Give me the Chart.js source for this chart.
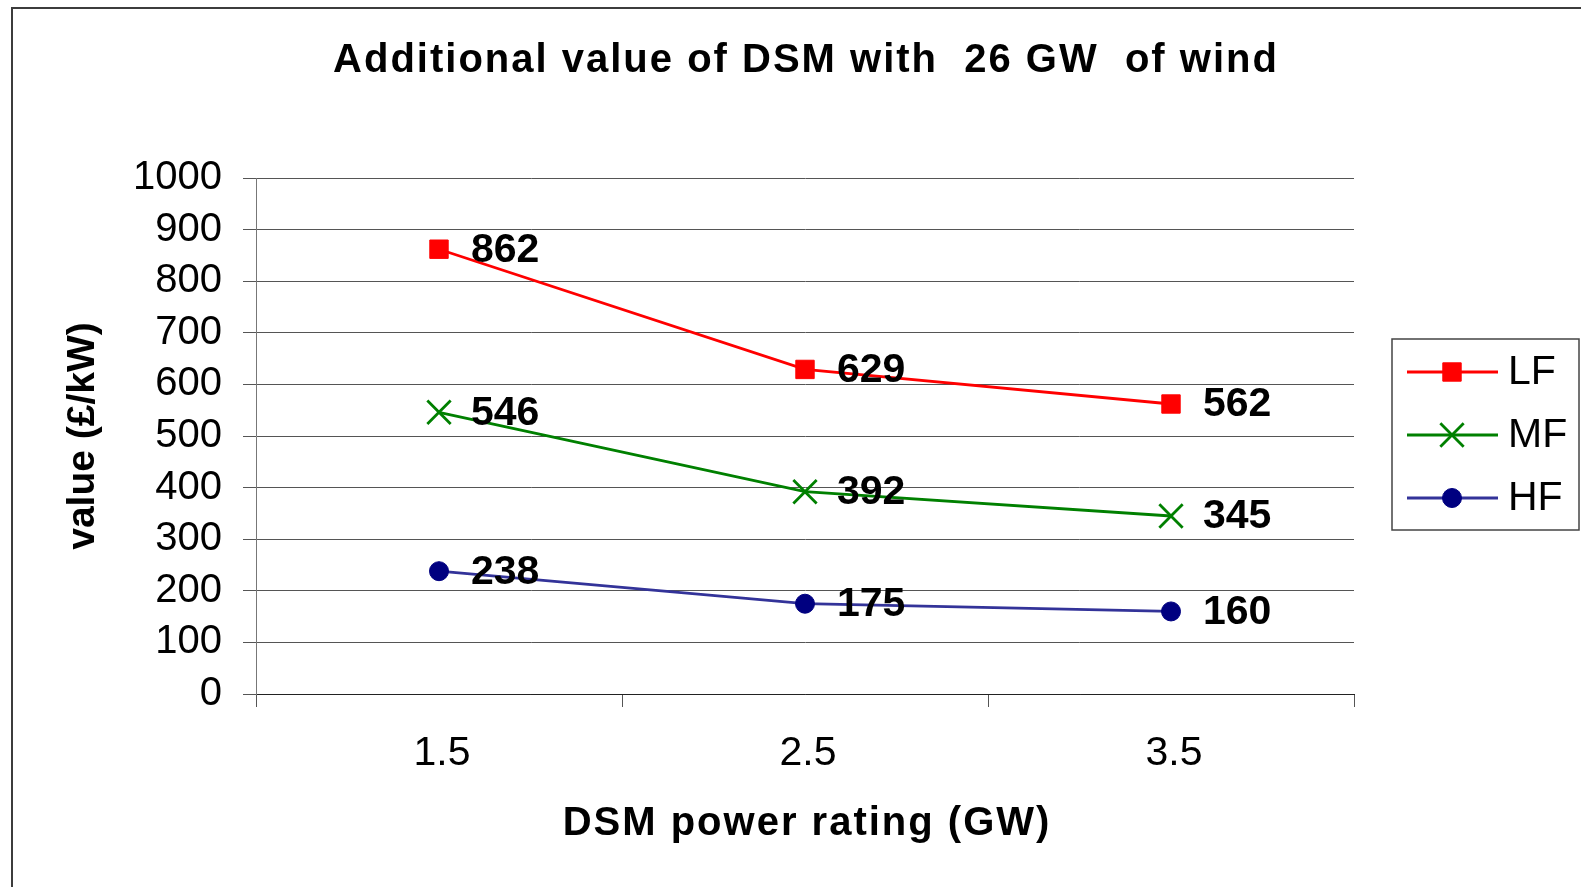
<!DOCTYPE html>
<html><head><meta charset="utf-8">
<script src="https://cdn.jsdelivr.net/npm/chart.js@4.4.1/dist/chart.umd.min.js"></script>
<style>
html,body{margin:0;padding:0;background:#fff;overflow:hidden}
#wrap{position:relative;width:1581px;height:887px;overflow:hidden}
#frame{position:absolute;left:11px;top:7px;width:1700px;height:1000px;border-left:2px solid #3c3c3c;border-top:2px solid #3c3c3c;box-sizing:border-box}
canvas{position:absolute;left:0;top:0}
</style></head><body>
<div id="wrap"><div id="frame"></div><canvas id="c" width="1581" height="887"></canvas></div>
<script>
// ---- data ----
const categories = ['1.5', '2.5', '3.5'];
const seriesNames = ['LF', 'MF', 'HF'];
const lfValues = [862, 629, 562];
const mfValues = [546, 392, 345];
const hfValues = [238, 175, 160];
const yMin = 0, yMax = 1000, yStep = 100;
const chartTitle = 'Additional value of DSM with  26 GW  of wind';
const xTitle = 'DSM power rating (GW)';
const yTitle = 'value (£/kW)';

const FAMILY = '"Liberation Sans", Arial, Helvetica, sans-serif';

// titles with slight letter spacing
const spacedTitles = {
  id: 'spacedTitles',
  afterDraw(chart) {
    const {ctx, chartArea} = chart;
    ctx.save();
    ctx.fillStyle = '#000';
    ctx.textAlign = 'center';
    ctx.textBaseline = 'middle';
    ctx.font = 'bold 40px ' + FAMILY;
    if ('letterSpacing' in ctx) ctx.letterSpacing = '2px';
    const cx = (chartArea.left + chartArea.right) / 2;
    ctx.fillText(chartTitle, cx + 1, 61);
    ctx.fillText(xTitle, cx + 2, 824);
    ctx.restore();
  }
};

// value labels to the right of each point
const valueLabels = {
  id: 'valueLabels',
  afterDatasetsDraw(chart) {
    const {ctx} = chart;
    ctx.save();
    ctx.fillStyle = '#000';
    ctx.font = 'bold 41px ' + FAMILY;
    ctx.textAlign = 'left';
    ctx.textBaseline = 'middle';
    chart.data.datasets.forEach((ds, i) => {
      const meta = chart.getDatasetMeta(i);
      meta.data.forEach((pt, j) => {
        ctx.fillText(String(ds.data[j]), pt.x + 32, pt.y + 1);
      });
    });
    ctx.restore();
  }
};

function drawMarker(ctx, ds, x, y) {
  ctx.fillStyle = ds.pointBackgroundColor;
  ctx.strokeStyle = ds.pointBorderColor;
  ctx.lineWidth = ds.pointBorderWidth;
  if (Chart.helpers && Chart.helpers.drawPoint) {
    Chart.helpers.drawPoint(ctx, {pointStyle: ds.pointStyle, radius: ds.pointRadius, borderWidth: ds.pointBorderWidth, rotation: 0}, x, y);
    return;
  }
  const r = ds.pointRadius;
  ctx.beginPath();
  if (ds.pointStyle === 'rect') {
    const s = r * Math.SQRT1_2;
    ctx.rect(x - s, y - s, 2 * s, 2 * s); ctx.fill(); ctx.stroke();
  } else if (ds.pointStyle === 'crossRot') {
    const s = r * Math.SQRT1_2;
    ctx.moveTo(x - s, y - s); ctx.lineTo(x + s, y + s);
    ctx.moveTo(x - s, y + s); ctx.lineTo(x + s, y - s); ctx.stroke();
  } else {
    ctx.arc(x, y, r, 0, Math.PI * 2); ctx.fill(); ctx.stroke();
  }
}

// boxed legend with line + marker
const boxLegend = {
  id: 'boxLegend',
  afterDraw(chart) {
    const {ctx, chartArea} = chart;
    const bx = chartArea.right + 38, by = 339, bw = 187, bh = 191;
    ctx.save();
    ctx.strokeStyle = '#444';
    ctx.lineWidth = 1.5;
    ctx.strokeRect(bx, by, bw, bh);
    chart.data.datasets.forEach((ds, i) => {
      const y = by + 33 + i * 63;
      ctx.beginPath();
      ctx.strokeStyle = ds.borderColor;
      ctx.lineWidth = ds.borderWidth;
      ctx.moveTo(bx + 15, y);
      ctx.lineTo(bx + 106, y);
      ctx.stroke();
      drawMarker(ctx, ds, bx + 60, y);
      ctx.fillStyle = '#000';
      ctx.font = '41px ' + FAMILY;
      ctx.textAlign = 'left';
      ctx.textBaseline = 'middle';
      ctx.fillText(ds.label, bx + 116, y + 1);
    });
    ctx.restore();
  }
};

new Chart(document.getElementById('c'), {
  type: 'line',
  data: {
    labels: categories,
    datasets: [
      {label: seriesNames[0], data: lfValues, borderColor: '#ff0000', borderWidth: 2.8,
       pointStyle: 'rect', pointRadius: 13, pointBackgroundColor: '#ff0000', pointBorderColor: '#ff0000', pointBorderWidth: 1},
      {label: seriesNames[1], data: mfValues, borderColor: '#008000', borderWidth: 2.8,
       pointStyle: 'crossRot', pointRadius: 16.5, pointBackgroundColor: '#008000', pointBorderColor: '#008000', pointBorderWidth: 2.8},
      {label: seriesNames[2], data: hfValues, borderColor: '#333399', borderWidth: 2.8,
       pointStyle: 'circle', pointRadius: 9.5, pointBackgroundColor: '#000080', pointBorderColor: '#000080', pointBorderWidth: 1}
    ]
  },
  options: {
    responsive: false,
    animation: false,
    devicePixelRatio: 1,
    layout: {padding: {top: 178, right: 227, bottom: 0, left: 0}},
    elements: {line: {tension: 0}},
    plugins: {legend: {display: false}, title: {display: false}, tooltip: {enabled: false}},
    scales: {
      x: {
        type: 'category',
        offset: true,
        grid: {offset: true, drawOnChartArea: false, drawTicks: true, tickLength: 13, color: '#555', lineWidth: 1},
        border: {display: true, color: '#222', width: 1},
        ticks: {font: {family: FAMILY, size: 41}, color: '#000', padding: 22, labelOffset: 3, maxRotation: 0, autoSkip: false},
        afterFit(s) { s.height = 193; }
      },
      y: {
        min: yMin, max: yMax,
        ticks: {stepSize: yStep, font: {family: FAMILY, size: 40}, color: '#000', padding: 21,
                callback: (v) => String(v)},
        grid: {color: '#555', lineWidth: 1, tickLength: 13, drawTicks: true},
        border: {display: true, color: '#777', width: 1},
        title: {display: true, text: yTitle, color: '#000', font: {family: FAMILY, size: 39, weight: 'bold'}, padding: {top: 60, bottom: 0}},
        afterFit(s) { s.width = 256; }
      }
    }
  },
  plugins: [spacedTitles, valueLabels, boxLegend]
});
</script>
</body></html>
